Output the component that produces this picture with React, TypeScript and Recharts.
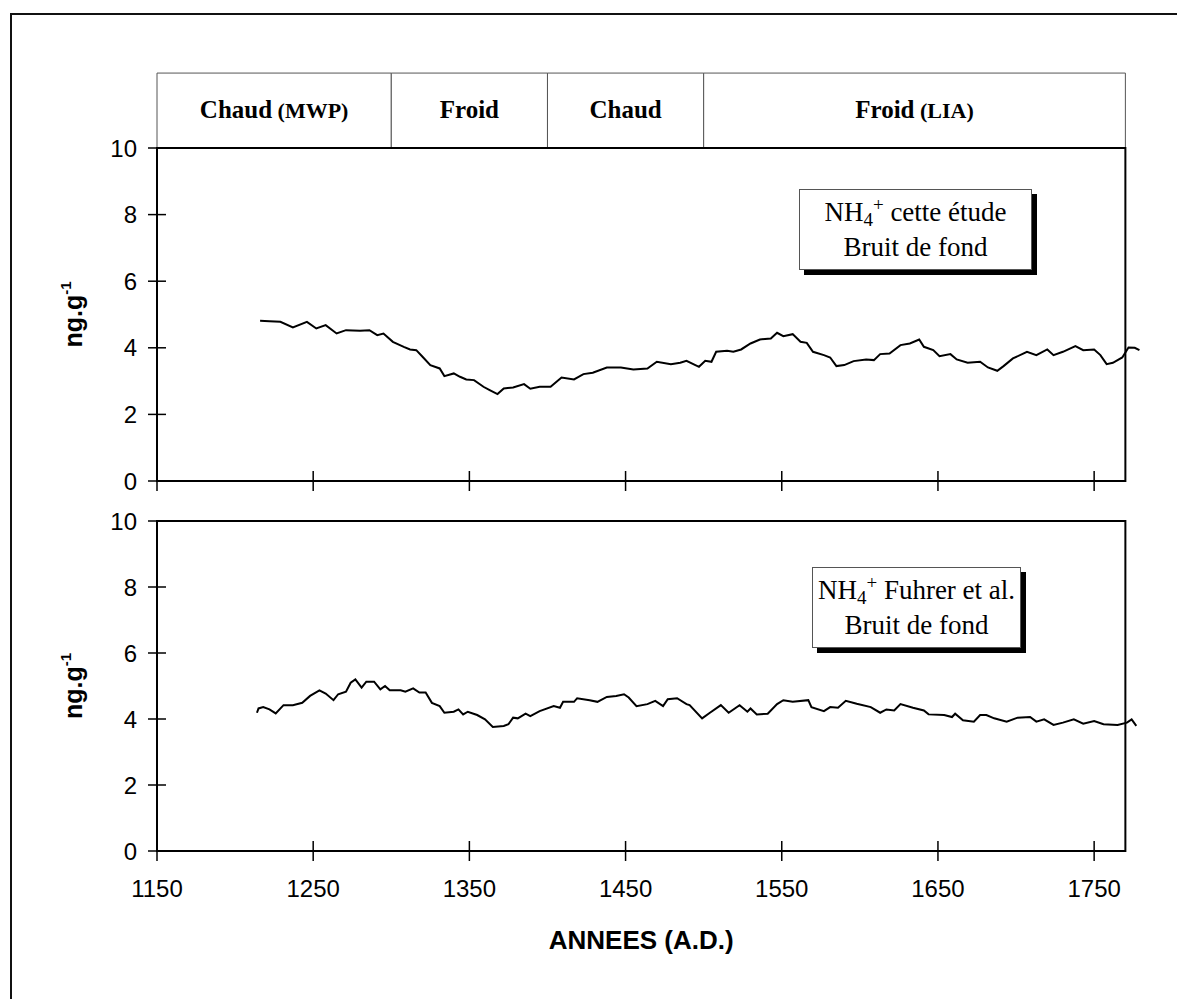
import React from 'react';
import { LineChart, Line, XAxis, YAxis, ReferenceArea, Legend } from 'recharts';

// ---- data ----
const yearTicks = [1150, 1250, 1350, 1450, 1550, 1650, 1750];
const valueTicks = [0, 2, 4, 6, 8, 10];

const periodStarts = [1150, 1300, 1400, 1500];
const periodEnds = [1300, 1400, 1500, 1770];
const periodNames = ['Chaud', 'Froid', 'Chaud', 'Froid'];
const periodTags = ['(MWP)', '', '', '(LIA)'];

const topYears = [
    1216, 1222, 1229, 1237, 1246, 1252, 1258, 1265, 1271, 1280, 1286, 1291, 1295, 1301, 1308, 1312,
    1316, 1320, 1325, 1331, 1334, 1340, 1344, 1348, 1353, 1359, 1363, 1368, 1372, 1378, 1385, 1389,
    1395, 1402, 1409, 1417, 1423, 1429, 1438, 1447, 1455, 1464, 1470, 1479, 1485, 1489, 1497, 1501,
    1505, 1508, 1515, 1519, 1524, 1530, 1536, 1543, 1547, 1551, 1557, 1562, 1566, 1570, 1577, 1581,
    1585, 1590, 1596, 1604, 1609, 1613, 1619, 1626, 1632, 1638, 1641, 1647, 1651, 1658, 1662, 1669,
    1677, 1682, 1688, 1692, 1698, 1707, 1713, 1720, 1724, 1730, 1738, 1743, 1750, 1754, 1758, 1762,
    1768, 1772, 1776, 1779,
];
const topValues = [
    4.81, 4.8, 4.78, 4.61, 4.78, 4.58, 4.68, 4.43, 4.53, 4.51, 4.53, 4.38, 4.43, 4.18, 4.03, 3.95,
    3.93, 3.73, 3.48, 3.38, 3.15, 3.23, 3.13, 3.05, 3.03, 2.83, 2.73, 2.61, 2.78, 2.81, 2.91, 2.77,
    2.83, 2.83, 3.11, 3.05, 3.21, 3.25, 3.41, 3.41, 3.35, 3.38, 3.58, 3.51, 3.55, 3.61, 3.43, 3.61,
    3.58, 3.88, 3.91, 3.88, 3.95, 4.13, 4.25, 4.28, 4.45, 4.35, 4.41, 4.18, 4.15, 3.88, 3.78, 3.71,
    3.45, 3.48, 3.6, 3.65, 3.63, 3.81, 3.83, 4.08, 4.13, 4.25, 4.03, 3.93, 3.75, 3.81, 3.65, 3.55,
    3.58, 3.41, 3.31, 3.45, 3.68, 3.88, 3.78, 3.95, 3.78, 3.88, 4.05, 3.93, 3.95, 3.78, 3.51, 3.55,
    3.71, 4.01, 4.0, 3.93,
];

const bottomYears = [
    1214, 1215, 1218, 1222, 1226, 1231, 1237, 1243, 1248, 1254, 1258, 1263, 1266, 1271, 1274, 1277,
    1281, 1284, 1289, 1293, 1296, 1299, 1306, 1309, 1314, 1318, 1322, 1326, 1331, 1334, 1340, 1343,
    1346, 1349, 1355, 1360, 1365, 1372, 1375, 1378, 1381, 1386, 1389, 1395, 1404, 1408, 1410, 1417,
    1419, 1427, 1432, 1438, 1444, 1449, 1452, 1457, 1464, 1469, 1474, 1477, 1483, 1489, 1491, 1499,
    1504, 1511, 1516, 1523, 1528, 1530, 1534, 1541, 1547, 1551, 1557, 1567, 1569, 1577, 1581, 1586,
    1591, 1598, 1607, 1613, 1617, 1622, 1626, 1634, 1641, 1644, 1654, 1659, 1661, 1666, 1673, 1677,
    1681, 1686, 1694, 1701, 1709, 1713, 1718, 1724, 1730, 1737, 1743, 1750, 1756, 1765, 1771, 1774,
    1777,
];
const bottomValues = [
    4.19, 4.32, 4.36, 4.29, 4.17, 4.42, 4.42, 4.49, 4.7, 4.87, 4.77, 4.57, 4.75, 4.83, 5.1, 5.2,
    4.95, 5.13, 5.13, 4.9, 5.0, 4.87, 4.87, 4.83, 4.93, 4.8, 4.8, 4.49, 4.39, 4.19, 4.22, 4.29,
    4.14, 4.22, 4.12, 3.99, 3.76, 3.79, 3.84, 4.04, 4.02, 4.16, 4.09, 4.24, 4.39, 4.34, 4.52, 4.52,
    4.63, 4.57, 4.52, 4.67, 4.7, 4.75, 4.65, 4.39, 4.45, 4.55, 4.39, 4.6, 4.63, 4.45, 4.42, 4.02,
    4.19, 4.42, 4.19, 4.42, 4.22, 4.32, 4.14, 4.16, 4.45, 4.57, 4.52, 4.57, 4.36, 4.24, 4.36, 4.34,
    4.55, 4.46, 4.36, 4.19, 4.29, 4.26, 4.45, 4.34, 4.26, 4.14, 4.12, 4.06, 4.16, 3.96, 3.92, 4.12,
    4.12, 4.02, 3.92, 4.04, 4.06, 3.92, 3.99, 3.82, 3.89, 3.99, 3.86, 3.94, 3.84, 3.82, 3.89, 3.99,
    3.79,
];

const topRows = topYears.map((year, i) => ({ year, value: topValues[i] }));
const bottomRows = bottomYears.map((year, i) => ({ year, value: bottomValues[i] }));

const X_DOMAIN = [1150, 1780];
const FRAME_END = 1770;
// the period band sits on top of the upper panel, from 10 up to this value
const BAND_TOP = 12.25;
const SANS = '"Liberation Sans", Arial, Helvetica, sans-serif';
const SERIF = '"Liberation Serif", "Times New Roman", Times, serif';

const X_TICK_SIZE = 10;
const X_TICK_MARGIN = 19;
const Y_TICK_SIZE = 9;
const Y_TICK_MARGIN = 11;

// ticks that cross the axis line, like the original
const XTick = (props: any) => {
    const { x, y, payload, showLabel } = props;
    const ay = y - X_TICK_SIZE - X_TICK_MARGIN;
    return (
        <g>
            <line x1={x} x2={x} y1={ay - X_TICK_SIZE} y2={ay + X_TICK_SIZE} stroke="#000" strokeWidth={1.5} />
            {showLabel && (
                <text x={x} y={y} dy="0.72em" textAnchor="middle" fontFamily={SANS} fontSize={24} fill="#000">
                    {payload.value}
                </text>
            )}
        </g>
    );
};

const YTick = (props: any) => {
    const { x, y, payload } = props;
    const ax = x + Y_TICK_SIZE + Y_TICK_MARGIN;
    return (
        <g>
            <line x1={ax - Y_TICK_SIZE} x2={ax + Y_TICK_SIZE} y1={y} y2={y} stroke="#000" strokeWidth={1.5} />
            <text x={x} y={y} dy="0.355em" textAnchor="end" fontFamily={SANS} fontSize={24} fill="#000">
                {payload.value}
            </text>
        </g>
    );
};

const renderYTitle = (props: any) => {
    const vb = props.viewBox || { x: 57, y: 0, width: 100, height: 0 };
    const cx = vb.x + 16;
    const cy = vb.y + vb.height / 2;
    return (
        <text
            x={cx}
            y={cy}
            transform={`rotate(-90 ${cx} ${cy})`}
            textAnchor="middle"
            dy="0.35em"
            fontFamily={SANS}
            fontWeight="bold"
            fontSize={25}
            fill="#000"
        >
            ng.g
            <tspan dy={-11} fontSize={15}>-1</tspan>
        </text>
    );
};

const renderXTitle = (props: any) => {
    const vb = props.viewBox || { x: 157, y: 851, width: 984, height: 100 };
    const frac = (FRAME_END - X_DOMAIN[0]) / (X_DOMAIN[1] - X_DOMAIN[0]);
    const cx = vb.x + (vb.width * frac) / 2;
    return (
        <text x={cx} y={vb.y + 98} textAnchor="middle" fontFamily={SANS} fontWeight="bold" fontSize={26} fill="#000">
            ANNEES (A.D.)
        </text>
    );
};

const renderPeriodLabel = (i: number) => (p: any) => {
    const vb = p.viewBox;
    if (!vb) return null;
    return (
        <text
            x={vb.x + vb.width / 2}
            y={vb.y + vb.height / 2 + 7}
            textAnchor="middle"
            fontFamily={SERIF}
            fontSize={25}
            fontWeight="bold"
            fill="#000"
        >
            {periodNames[i]}
            {periodTags[i] && <tspan fontSize={22}>{' ' + periodTags[i]}</tspan>}
        </text>
    );
};

const NoteBox = ({ first, width }: { first: string; width: number }) => (
    <div
        style={{
            width,
            boxSizing: 'border-box',
            border: '1px solid #555',
            background: '#fff',
            boxShadow: '5px 5px 0 #000',
            fontFamily: SERIF,
            fontSize: 27,
            lineHeight: '32px',
            textAlign: 'center',
            padding: '6px 0 6px',
            color: '#000',
            whiteSpace: 'nowrap',
        }}
    >
        <div>
            NH<span style={{ fontSize: 19, position: 'relative', top: 5 }}>4</span>
            <span style={{ fontSize: 19, position: 'relative', top: -10 }}>+</span> {first}
        </div>
        <div>Bruit de fond</div>
    </div>
);

const Panel = ({ rows, top, height, plotTop, plotBottom, xAxisHeight, showYears, showBand, note, noteLeft, noteTop, noteWidth }: any) => (
    <div style={{ position: 'absolute', left: 0, top, width: 1177, height }}>
        <LineChart
            width={1177}
            height={height}
            data={rows}
            margin={{ top: plotTop, right: 36, bottom: height - plotBottom - xAxisHeight, left: 57 }}
        >
            <XAxis
                type="number"
                dataKey="year"
                domain={X_DOMAIN}
                ticks={yearTicks}
                interval={0}
                height={xAxisHeight}
                axisLine={false}
                tickLine={false}
                tickSize={X_TICK_SIZE}
                tickMargin={X_TICK_MARGIN}
                tick={(p: any) => <XTick {...p} showLabel={showYears} />}
                label={showYears ? { content: renderXTitle } : undefined}
            />
            <YAxis
                type="number"
                domain={[0, 10]}
                ticks={valueTicks}
                interval={0}
                width={100}
                axisLine={false}
                tickLine={false}
                tickSize={Y_TICK_SIZE}
                tickMargin={Y_TICK_MARGIN}
                tick={(p: any) => <YTick {...p} />}
                label={{ content: renderYTitle }}
            />
            {showBand &&
                periodStarts.map((start, i) => (
                    <ReferenceArea
                        key={'band' + i}
                        x1={start}
                        x2={periodEnds[i]}
                        y1={10}
                        y2={BAND_TOP}
                        ifOverflow="visible"
                        fill="#fff"
                        fillOpacity={1}
                        stroke="#555"
                        strokeWidth={1}
                        label={{ content: renderPeriodLabel(i) }}
                    />
                ))}
            <ReferenceArea
                x1={X_DOMAIN[0]}
                x2={FRAME_END}
                y1={0}
                y2={10}
                fill="none"
                fillOpacity={0}
                stroke="#000"
                strokeWidth={2}
            />
            <Line
                type="linear"
                dataKey="value"
                stroke="#000"
                strokeWidth={2}
                dot={false}
                isAnimationActive={false}
            />
            <Legend
                layout="horizontal"
                verticalAlign="middle"
                align="center"
                wrapperStyle={{ left: noteLeft, top: noteTop, width: noteWidth }}
                content={() => <NoteBox first={note} width={noteWidth} />}
            />
        </LineChart>
    </div>
);

export default function App() {
    return (
        <div
            style={{
                position: 'absolute',
                left: 0,
                top: 0,
                width: 1177,
                height: 999,
                overflow: 'hidden',
                background: '#fff',
            }}
        >
            <div
                style={{
                    position: 'absolute',
                    left: 10,
                    top: 13,
                    width: 1300,
                    height: 1100,
                    borderLeft: '2px solid #111',
                    borderTop: '2px solid #111',
                }}
            />
            <Panel
                rows={topRows}
                top={0}
                height={520}
                plotTop={148}
                plotBottom={481}
                xAxisHeight={30}
                showYears={false}
                showBand={true}
                note="cette étude"
                noteLeft={799}
                noteTop={189}
                noteWidth={233}
            />
            <Panel
                rows={bottomRows}
                top={490}
                height={500}
                plotTop={31}
                plotBottom={361}
                xAxisHeight={100}
                showYears={true}
                showBand={false}
                note="Fuhrer et al."
                noteLeft={812}
                noteTop={77}
                noteWidth={209}
            />
        </div>
    );
}
